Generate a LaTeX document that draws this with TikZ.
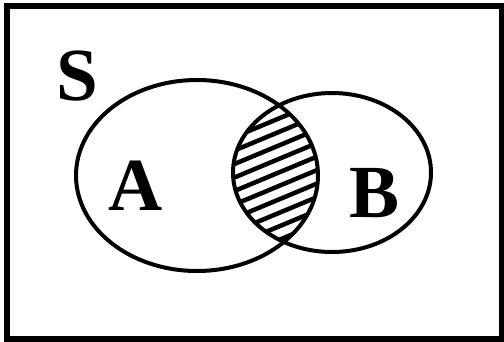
\documentclass[tikz,border=0pt]{standalone}
\usepackage{fontspec}
\setmainfont{Liberation Serif}
\usetikzlibrary{positioning}

\tikzset{
  setlabel/.style={font=\fontsize{75}{75}\selectfont\bfseries, inner sep=0pt},
  hatch/.style={line width=4.5pt}
}

\begin{document}
\begin{tikzpicture}[x=1pt, y=-1pt, line width=4pt]
  \useasboundingbox (0,0) rectangle (504,341);
  % sample space
  \draw[line width=6pt] (6.5,6) rectangle (502,339);

  % hatched intersection
  \begin{scope}
    \clip (197,175.5) ellipse [x radius=121pt, y radius=95.5pt];
    \clip (332,172.5) ellipse [x radius=99pt, y radius=79.5pt];
    \foreach \i in {-6,...,6}
      \draw[hatch] (220,{172+13.5*\i+25}) -- (340,{172+13.5*\i-25});
  \end{scope}

  % the two sets
  \draw (197,175.5) ellipse [x radius=121pt, y radius=95.5pt];
  \draw (332,172.5) ellipse [x radius=99pt, y radius=79.5pt];

  \node[setlabel] (labelS) at (77,76) {S};
  \node[setlabel] (labelA) at (136,186) {A};
  \node[setlabel] (labelB) at (375,193) {B};
\end{tikzpicture}
\end{document}
